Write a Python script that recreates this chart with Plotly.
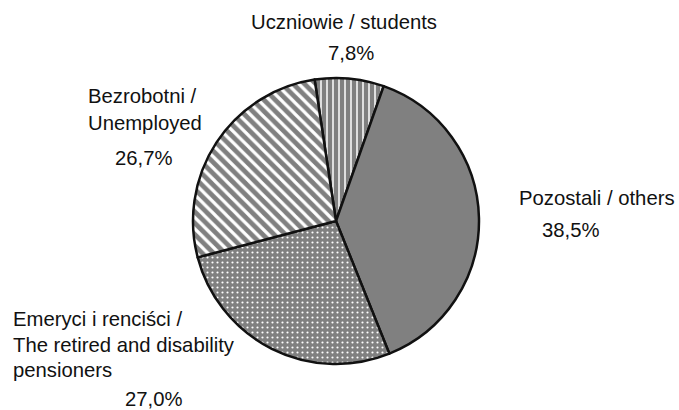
import plotly.graph_objects as go

# Data (clockwise from the top)
labels_pl = ["Uczniowie", "Pozostali", "Emeryci i renciści", "Bezrobotni"]
labels_en = ["students", "others", "The retired and disability pensioners", "Unemployed"]
values = [7.8, 38.5, 27.0, 26.7]
patterns = ["|", "", ".", "\\"]

W, H = 679, 410
cx, cy, r = 336, 221, 143

def px(x):
    return x / W

def py(y):
    return 1 - y / H

def pct(v):
    return f"{v:.1f}".replace(".", ",") + "%"

GRAY = "#808080"

fig = go.Figure()
fig.add_trace(go.Pie(
    labels=[f"{a} / {b}" for a, b in zip(labels_pl, labels_en)],
    values=values,
    sort=False,
    direction="clockwise",
    rotation=-8.6,
    textinfo="none",
    hoverinfo="label+percent",
    showlegend=False,
    domain=dict(x=[px(cx - r), px(cx + r)], y=[py(cy + r), py(cy - r)]),
    marker=dict(
        colors=[GRAY] * 4,
        line=dict(color="#111111", width=2.5),
        pattern=dict(
            shape=patterns,
            fgcolor="white",
            bgcolor=GRAY,
            size=[6, 8, 5, 8],
            solidity=[0.25, 0.3, 0.15, 0.4],
            fillmode="replace",
        ),
    ),
))

font = dict(family="Liberation Sans, Arial, sans-serif", size=20.3, color="#111111")

# (text, x, y, xanchor) in page pixels
ann = [
    (f"{labels_pl[0]} / {labels_en[0]}", 343.5, 22, "center"),
    (pct(values[0]), 351, 53.3, "center"),
    (f"{labels_pl[3]} /", 88, 96.3, "left"),
    (labels_en[3], 88, 122.5, "left"),
    (pct(values[3]), 143.5, 158, "center"),
    (f"{labels_pl[1]} / {labels_en[1]}", 519, 197.5, "left"),
    (pct(values[1]), 542, 230, "left"),
    (f"{labels_pl[2]} /", 13, 319, "left"),
    ("The retired and disability", 13, 344.5, "left"),
    ("pensioners", 13, 370, "left"),
    (pct(values[2]), 125, 399, "left"),
]

for text, x, y, xa in ann:
    fig.add_annotation(
        text=text, x=px(x), y=py(y), xref="paper", yref="paper",
        xanchor=xa, yanchor="middle", showarrow=False, font=font,
        borderpad=0, borderwidth=0,
    )

fig.update_layout(
    width=W, height=H,
    margin=dict(l=0, r=0, t=0, b=0),
    paper_bgcolor="white",
    plot_bgcolor="white",
)

fig.write_html(
    "out.html",
    config={"displayModeBar": False},
    post_script="document.body.style.margin='0';document.body.style.overflow='hidden';",
)
